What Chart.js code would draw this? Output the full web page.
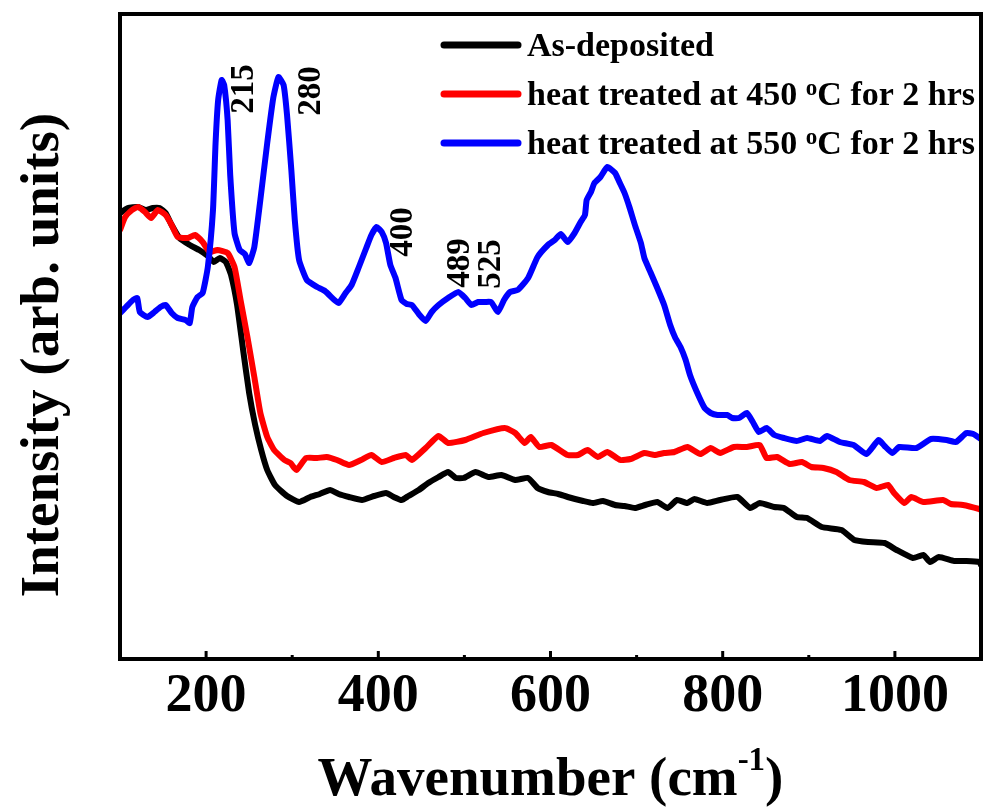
<!DOCTYPE html>
<html>
<head>
<meta charset="utf-8">
<script src="https://cdn.jsdelivr.net/npm/chart.js@4.4.1/dist/chart.umd.min.js"></script>
<style>
  html, body { margin: 0; padding: 0; background: #fff; overflow: hidden; }
  #wrap { width: 987px; height: 811px; }
</style>
</head>
<body>
<div id="wrap"><canvas id="chart" width="987" height="811"></canvas></div>
<script>
// Raman spectra, wavenumber (cm-1) vs intensity (arb. units)

const seriesNames = ['As-deposited', 'heat treated at 450 °C for 2 hrs', 'heat treated at 550 °C for 2 hrs'];
const seriesColors = ['#000000', '#ff0000', '#0000ff'];

const asDepWn = [100,109,121,130,138,146,153,160,169,181,192,202,209,216,223,229,236,243,250,257,
  264,271,280,294,308,321,332,344,354,366,381,395,409,418,427,435,447,458,470,481,
  490,499,513,528,543,559,574,585,597,609,620,638,649,661,675,686,698,710,724,736,
  747,759,767,782,797,817,832,843,860,871,886,898,915,938,953,969,988,1002,1021,1033,
  1041,1051,1069,1083,1098,1100];
const asDepInt = [446,451,452,449,451,451,446,434,421,414,409,403,397,401,397,384,354,309,266,234,
  209,189,174,163,157,162,165,169,165,162,159,163,166,162,159,163,169,176,182,187,
  181,181,187,182,184,179,181,171,167,165,162,158,156,158,154,153,151,154,157,151,
  159,156,160,156,159,162,151,156,152,151,142,141,132,129,119,117,116,109,101,104,
  97,102,98,98,97,94];

const ht450Wn = [100,106,114,121,129,136,144,153,160,167,179,187,196,204,213,225,233,240,248,256,
  263,271,279,291,298,305,316,329,340,352,366,380,392,404,418,432,439,455,470,481,
  501,522,547,559,570,577,587,601,620,632,643,655,666,681,693,709,721,732,744,759,
  774,786,797,813,828,843,851,863,878,892,903,917,932,947,964,979,992,999,1011,1019,
  1033,1056,1065,1079,1098,1100];
const ht450Int = [429,442,449,452,447,441,449,444,434,422,421,424,417,407,409,406,392,359,322,282,
  246,222,209,199,196,189,201,201,202,199,194,199,204,197,201,204,199,211,223,216,
  219,226,231,226,216,222,212,214,204,204,209,202,207,199,200,206,204,206,207,212,
  205,211,206,212,212,214,201,202,195,197,192,191,187,179,177,171,174,166,156,162,
  157,159,155,154,150,149];

const ht550Wn = [100,107,115,120,123,132,140,147,153,160,167,176,181,184,190,196,202,208,211,214,
  218,221,225,228,233,239,245,250,256,263,271,278,284,290,294,299,303,308,317,329,
  338,349,354,362,369,377,386,392,398,404,409,414,420,427,433,439,447,455,462,470,
  481,493,501,508,516,524,531,539,546,553,562,574,585,597,605,612,620,628,635,640,
  642,647,651,658,666,675,680,686,692,698,705,709,716,724,732,739,745,751,757,762,
  770,779,786,794,805,811,819,828,835,842,851,860,871,886,898,913,921,936,952,967,
  981,988,997,1005,1025,1042,1060,1071,1083,1091,1100];
const ht550Int = [346,352,359,361,347,342,347,352,354,346,341,339,336,352,362,366,392,449,516,559,
  579,574,539,484,426,409,405,396,412,459,516,561,582,574,544,489,439,399,379,372,
  368,359,356,366,374,391,411,424,432,427,416,394,381,359,355,354,345,338,347,354,
  361,367,361,354,357,357,357,347,359,367,369,381,402,414,419,425,417,426,437,444,
  459,467,476,482,492,486,477,466,451,434,416,401,387,371,354,334,321,312,299,284,
  267,251,246,244,244,241,241,246,237,227,231,224,221,218,221,218,223,217,214,205,
  219,213,206,212,211,220,219,217,226,225,220];

// peak labels (wavenumber, intensity where the label sits)
const peakLabels = ['215', '280', '400', '489', '525'];
const peakWn = [245, 322, 429, 495, 531];
const peakInt = [570, 568, 427, 396, 395];

const xTicksMajor = 200;
const xTitleParts = ['Wavenumber (cm', '-1', ')'];
const yTitle = 'Intensity (arb. units)';

const SERIF = "'Liberation Serif', 'Times New Roman', serif";

function toPoints(xs, ys) {
  return xs.map((x, i) => ({ x: x, y: ys[i] }));
}

// frame, inward ticks, titles, legend and peak labels
const decorations = {
  id: 'decorations',
  afterDraw(chart) {
    const c = chart.ctx;
    const a = chart.chartArea;
    const xs = chart.scales.x;
    const ys = chart.scales.y;
    c.save();

    // peak labels, rotated
    c.fillStyle = '#000';
    c.font = 'bold 33px ' + SERIF;
    c.textAlign = 'center';
    c.textBaseline = 'middle';
    peakLabels.forEach((t, i) => {
      c.save();
      c.translate(xs.getPixelForValue(peakWn[i]), ys.getPixelForValue(peakInt[i]));
      c.rotate(-Math.PI / 2);
      c.fillText(t, 0, 0);
      c.restore();
    });

    // box
    c.strokeStyle = '#000';
    c.lineWidth = 4;
    c.strokeRect(a.left, a.top, a.right - a.left, a.bottom - a.top);

    // inward ticks on bottom axis
    c.lineWidth = 3;
    xs.ticks.forEach(t => {
      if (t.value <= xs.min || t.value >= xs.max) return;
      const px = xs.getPixelForValue(t.value);
      const len = t.value % xTicksMajor === 0 ? 8 : 4;
      c.beginPath();
      c.moveTo(px, a.bottom);
      c.lineTo(px, a.bottom - len);
      c.stroke();
    });

    // x title with superscript
    const big = 'bold 55px ' + SERIF;
    const small = 'bold 33px ' + SERIF;
    c.textAlign = 'left';
    c.textBaseline = 'alphabetic';
    c.font = big;
    const w0 = c.measureText(xTitleParts[0]).width;
    const w2 = c.measureText(xTitleParts[2]).width;
    c.font = small;
    const w1 = c.measureText(xTitleParts[1]).width;
    let tx = (a.left + a.right) / 2 - (w0 + w1 + w2) / 2;
    const ty = 795;
    c.font = big;
    c.fillText(xTitleParts[0], tx, ty);
    tx += w0;
    c.font = small;
    c.fillText(xTitleParts[1], tx, ty - 25);
    tx += w1;
    c.font = big;
    c.fillText(xTitleParts[2], tx, ty);

    // y title
    c.save();
    c.translate(58, 355);
    c.rotate(-Math.PI / 2);
    c.textAlign = 'center';
    c.font = big;
    c.fillText(yTitle, 0, 0);
    c.restore();

    // legend
    const rowY = [45, 94, 143];
    seriesNames.forEach((name, i) => {
      c.strokeStyle = seriesColors[i];
      c.lineWidth = 7;
      c.lineCap = 'round';
      c.beginPath();
      c.moveTo(444, rowY[i]);
      c.lineTo(518, rowY[i]);
      c.stroke();
      c.fillStyle = '#000';
      c.textAlign = 'left';
      let lx = 527;
      const by = rowY[i] + 11;
      const parts = name.split('°');
      parts.forEach((p, k) => {
        if (k > 0) {
          c.font = 'bold 23px ' + SERIF;
          c.fillText('o', lx, by - 10);
          lx += c.measureText('o').width;
        }
        c.font = 'bold 34px ' + SERIF;
        c.fillText(p, lx, by);
        lx += c.measureText(p).width;
      });
    });
    c.restore();
  }
};

const ctx = document.getElementById('chart').getContext('2d');
const chart = new Chart(ctx, {
  type: 'line',
  data: {
    datasets: [
      { label: seriesNames[0], data: toPoints(asDepWn, asDepInt), borderColor: seriesColors[0], order: 2 },
      { label: seriesNames[1], data: toPoints(ht450Wn, ht450Int), borderColor: seriesColors[1], order: 1 },
      { label: seriesNames[2], data: toPoints(ht550Wn, ht550Int), borderColor: seriesColors[2], order: 0 }
    ]
  },
  options: {
    responsive: false,
    animation: false,
    devicePixelRatio: 1,
    layout: { padding: { top: 14, right: 2, left: 0, bottom: 0 } },
    elements: {
      line: { borderWidth: 6, tension: 0.15, borderJoinStyle: 'round', borderCapStyle: 'round', fill: false },
      point: { radius: 0 }
    },
    plugins: {
      legend: { display: false },
      tooltip: { enabled: false }
    },
    scales: {
      x: {
        type: 'linear',
        min: 100,
        max: 1100,
        grid: { display: false, drawTicks: false },
        border: { display: false },
        ticks: {
          stepSize: 100,
          autoSkip: false,
          maxRotation: 0,
          padding: 6,
          color: '#000',
          font: { family: SERIF, size: 54, weight: 'bold' },
          callback: v => (v % xTicksMajor === 0 && v > 100 && v < 1100) ? String(v) : ''
        },
        afterFit: s => { s.height = 152; }
      },
      y: {
        min: 0,
        max: 645,
        grid: { display: false, drawTicks: false },
        border: { display: false },
        ticks: { display: false },
        afterFit: s => { s.width = 120; }
      }
    }
  },
  plugins: [decorations]
});
</script>
</body>
</html>
